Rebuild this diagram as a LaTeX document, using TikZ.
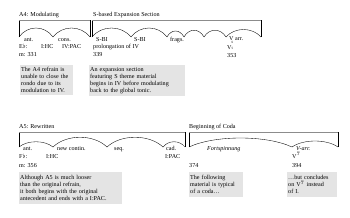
\documentclass[tikz,border=0pt]{standalone}
\usepackage{fontspec}
\setmainfont{Liberation Serif}
\usetikzlibrary{positioning}
\definecolor{notegray}{HTML}{E4E4E4}
\definecolor{topgray}{HTML}{8C8C8C}
\newcommand{\tn}{\fontsize{6.1pt}{7pt}\selectfont}
\newcommand{\figs}[2]{\fontsize{3.2pt}{3pt}\selectfont\shortstack{#1\\#2}}
\tikzset{
  brtop/.style={draw=topgray, line width=0.8pt},
  brside/.style={draw=black, line width=0.35pt},
  hump/.style={draw=black, line width=0.35pt},
  lab/.style={font=\tn, inner sep=0pt, anchor=base west},
  note/.style={fill=notegray, font=\tn, align=left, anchor=north west, inner xsep=1pt, inner ysep=2pt},
}
\begin{document}
\begin{tikzpicture}[x=1pt, y=-1pt]
  \useasboundingbox (0,0) rectangle (350,217);
  % brackets, row 1
  \foreach \l/\r in {19/90, 92/261} {
    \draw[brside] (\l,20) -- (\l,37);
    \draw[brside] (\r,20) -- (\r,37);
    \draw[brtop] (\l,20) -- (\r,20);
  }
  \foreach \a/\b/\h in {19/53/12, 53/90/12, 92/131/12, 131/167/12, 167/184/8, 184/204/9, 204/226/9, 226/261/10}
    \draw[hump] (\a,37) .. controls ({\a+0.25*(\b-\a)},{37-\h}) and ({\b-0.25*(\b-\a)},{37-\h}) .. (\b,37);
  % brackets, row 2
  \foreach \l/\r in {19/185, 189/338} {
    \draw[brside] (\l,132) -- (\l,147);
    \draw[brside] (\r,132) -- (\r,147);
    \draw[brtop] (\l,132) -- (\r,132);
  }
  \foreach \a/\b/\h in {19/53/7, 53/107/13, 107/163/13, 163/185/7, 189/292/12, 292/338/8}
    \draw[hump] (\a,147) .. controls ({\a+0.25*(\b-\a)},{147-\h}) and ({\b-0.25*(\b-\a)},{147-\h}) .. (\b,147);

  % titles
  \node[lab] (a4) at (19,16) {A4: Modulating};
  \node[lab] (sexp) at (93,16) {S-based Expansion Section};
  \node[lab] (a5) at (19,128) {A5: Rewritten};
  \node[lab] (coda) at (189,128) {Beginning of Coda};

  % phrase labels, row 1
  \node[lab] (p1) at (24,41) {ant.};
  \node[lab] (p2) at (58,41) {cons.};
  \node[lab] (p3) at (96,41) {S-BI};
  \node[lab] (p4) at (134,41) {S-BI};
  \node[lab] (p5) at (170,41) {frags.};
  \node[lab] (p6) at (229,40) {V arr.};
  \node[lab] (k1) at (19,48) {E$\flat$:};
  \node[lab] (k2) at (41,48) {I:HC};
  \node[lab] (k3) at (62,48) {IV:PAC};
  \node[lab] (k4) at (93,48) {prolongation of IV};
  \node[lab] (k5) at (227,49) {V\figs{6}{5}};
  \node[lab] (m1) at (19,56) {m: 331};
  \node[lab] (m2) at (93,56) {339};
  \node[lab] (m3) at (227,57) {353};

  % phrase labels, row 2
  \node[lab] (q1) at (23,150) {ant.};
  \node[lab] (q2) at (57,150) {new contin.};
  \node[lab] (q3) at (114,150) {seq.};
  \node[lab] (q4) at (166,150) {cad.};
  \node[lab] (q5) at (207,150) {\itshape Fortspinnung};
  \node[lab] (q6) at (296,150) {\itshape V-arr.};
  \node[lab] (j1) at (19,158) {F$\flat$:};
  \node[lab] (j2) at (46,158) {I:HC};
  \node[lab] (j3) at (165,158) {I:PAC};
  \node[lab] (j4) at (292,158) {V$^7$};
  \node[lab] (n1) at (19,167) {m: 356};
  \node[lab] (n2) at (189,167) {374};
  \node[lab] (n3) at (292,167) {394};

  % notes
  \node[note, text width=51pt, minimum height=30pt] (c1) at (20,65)
    {The A4 refrain is\\unable to close the\\rondo due to its\\modulation to IV.};
  \node[note, text width=94pt, minimum height=30pt] (c2) at (89,65)
    {An expansion section\\featuring S theme material\\begins in IV before modulating\\back to the global tonic.};
  \node[note, text width=101pt, minimum height=32pt] (c3) at (19,172)
    {Although A5 is much looser\\than the original refrain,\\it both begins with the original\\antecedent and ends with a I:PAC.};
  \node[note, text width=52pt, minimum height=25pt] (c4) at (189,172)
    {The following\\material is typical\\of a coda\ldots};
  \node[note, text width=48pt, minimum height=25pt] (c5) at (287,172)
    {\ldots but concludes\\on V$^7$ instead\\of I.};
\end{tikzpicture}
\end{document}
